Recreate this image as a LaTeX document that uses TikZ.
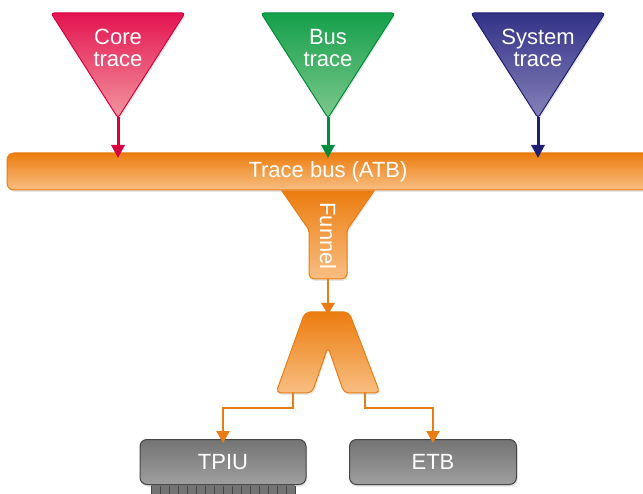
\documentclass[tikz,border=0pt]{standalone}
\usepackage{fontspec}
\setmainfont{Liberation Sans}
\usetikzlibrary{arrows.meta,shadows}
\definecolor{redB}{RGB}{215,0,65}
\definecolor{redT}{RGB}{228,20,80}
\definecolor{redM}{RGB}{222,10,70}
\definecolor{redL}{RGB}{242,150,160}
\definecolor{grnB}{RGB}{0,140,60}
\definecolor{grnT}{RGB}{20,160,75}
\definecolor{grnM}{RGB}{0,150,65}
\definecolor{grnL}{RGB}{125,200,140}
\definecolor{bluB}{RGB}{30,30,115}
\definecolor{bluT}{RGB}{50,50,135}
\definecolor{bluM}{RGB}{35,35,120}
\definecolor{bluL}{RGB}{135,130,185}
\definecolor{orB}{RGB}{232,125,20}
\definecolor{orT}{RGB}{236,125,15}
\definecolor{orL}{RGB}{248,190,130}
\definecolor{gyB}{RGB}{70,70,70}
\definecolor{gyT}{RGB}{115,115,115}
\definecolor{gyM}{RGB}{85,85,85}
\definecolor{gyL}{RGB}{160,160,160}
\begin{document}
\begin{tikzpicture}[x=1pt,y=-1pt,
  tri/.style={rounded corners=3pt, line width=1pt,
     drop shadow={opacity=0.2, shadow xshift=1pt, shadow yshift=-2pt}},
  lbl/.style={text=white, font=\fontsize{22}{22}\selectfont, align=center, inner sep=0pt},
  arr/.style={line width=3pt, -{Triangle[width=13pt,length=13pt]}},
  oarr/.style={draw=orB, line width=2.6pt, -{Triangle[width=13pt,length=12pt]}},
  orshape/.style={draw=orB, line width=1pt, top color=orT, bottom color=orL,
     drop shadow={opacity=0.2, shadow xshift=1pt, shadow yshift=-2pt}},
  graybox/.style={draw=gyB, line width=1pt, rounded corners=7pt,
     top color=gyT, middle color=gyM, bottom color=gyL,
     minimum height=45pt, text=white, font=\fontsize{22}{22}\selectfont,
     drop shadow={opacity=0.25, shadow xshift=1pt, shadow yshift=-2pt}}
]
\useasboundingbox (0,0) rectangle (643,494);
\clip (0,0) rectangle (643,494);

% triangles
\path[tri, draw=redB, top color=redT, middle color=redM, bottom color=redL]
  (51,13) -- (185,13) -- (118,118) -- cycle;
\coordinate (coreTip) at (118,117);
\node[lbl] (coreL) at (118,48) {Core\\trace};

\path[tri, draw=grnB, top color=grnT, middle color=grnM, bottom color=grnL]
  (261,13) -- (395,13) -- (328,118) -- cycle;
\coordinate (busTip) at (328,117);
\node[lbl] (busL) at (328,48) {Bus\\trace};

\path[tri, draw=bluB, top color=bluT, middle color=bluM, bottom color=bluL]
  (471,13) -- (605,13) -- (538,118) -- cycle;
\coordinate (sysTip) at (538,117);
\node[lbl] (sysL) at (538,48) {System\\trace};

% trace bus
\path[orshape, rounded corners=7pt] (7,153) rectangle (700,190);
\node[lbl] (atb) at (328,172) {Trace bus (ATB)};
\coordinate (in1) at (118,153);
\coordinate (in2) at (328,153);
\coordinate (in3) at (538,153);

\draw[arr, draw=redB] (coreTip) -- ([yshift=-5pt]in1);
\draw[arr, draw=grnB] (busTip) -- ([yshift=-5pt]in2);
\draw[arr, draw=bluB] (sysTip) -- ([yshift=-5pt]in3);

% funnel
\path[orshape] (282,191) -- (374,191) [rounded corners=2pt] -- (347,230)
  [rounded corners=5pt] -- (347,279) -- (309,279) [rounded corners=2pt] -- (309,230)
  [sharp corners] -- cycle;
\node[lbl, rotate=-90] (funnel) at (328,236) {Funnel};
\coordinate (fOut) at (328,279);
\coordinate (sIn) at (328,312);

% splitter
\path[orshape, rounded corners=5pt] (305,312) -- (349,312) -- (380,393) -- (344,393)
  -- (328,347) -- (312,393) -- (276,393) -- cycle;
\draw[oarr] (fOut) -- ([yshift=-3pt]sIn);
\coordinate (legL) at (293,393);
\coordinate (legR) at (365,393);

% boxes
\node[graybox, minimum width=166pt] (tpiu) at (223,462) {TPIU};
\node[graybox, minimum width=167pt] (etb) at (433,462) {ETB};

% TPIU pins
\fill[gyT] (151,485) rectangle (295,494);
\foreach \i in {0,...,16} \draw[gyB, line width=0.6pt] (151+\i*9,486) -- (151+\i*9,494);

\draw[oarr] (legL) -- (293,408) -| ([yshift=-4pt]tpiu.north);
\draw[oarr] (legR) -- (365,408) -| ([yshift=-4pt]etb.north);
\end{tikzpicture}
\end{document}
